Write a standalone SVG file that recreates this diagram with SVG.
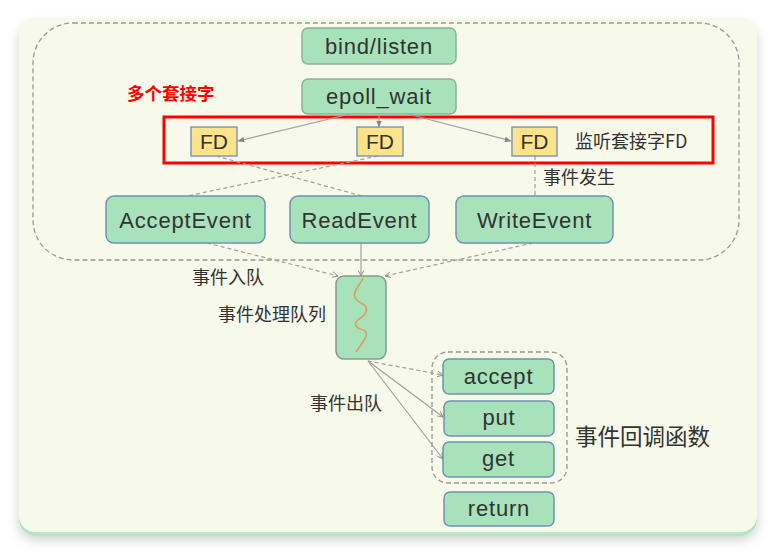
<svg xmlns="http://www.w3.org/2000/svg" width="775" height="555" viewBox="0 0 775 555">
<defs>
<filter id="sh" x="-10%" y="-10%" width="120%" height="125%">
<feDropShadow dx="0" dy="4" stdDeviation="6" flood-color="#000" flood-opacity="0.18"/>
</filter>
<marker id="ah" viewBox="0 0 10 10" refX="9" refY="5" markerWidth="7" markerHeight="7" orient="auto" markerUnits="userSpaceOnUse">
<path d="M1,1 L9,5 L1,9" fill="none" stroke="#888" stroke-width="1.3"/>
</marker>
<marker id="af" viewBox="0 0 10 10" refX="9" refY="5" markerWidth="7" markerHeight="7" orient="auto" markerUnits="userSpaceOnUse">
<path d="M0,1 L10,5 L0,9 Z" fill="#888"/>
</marker>
<style>
.node{fill:#a7e2ba;stroke:#6f93b3;stroke-width:1.5}
.gnode{fill:#a7e2ba;stroke:#8fb09a;stroke-width:1.5}
.fd{fill:#fde48a;stroke:#7f9ab3;stroke-width:1.5}
.t{font-family:"Liberation Sans",Arial,sans-serif;font-size:22px;fill:#333;text-anchor:middle;letter-spacing:0.8px}
.c{font-family:"Noto Sans CJK SC","Liberation Sans",sans-serif;font-size:18px;fill:#333}
.ln{fill:none;stroke:#a0a0a0;stroke-width:1.2}
.dl{fill:none;stroke:#a0a0a0;stroke-width:1.2;stroke-dasharray:4,3}
</style>
</defs>
<g id="card">
<rect x="19" y="21" width="738" height="515" rx="16" fill="#b6e6c3" filter="url(#sh)"/>
<rect x="19" y="18" width="738" height="514" rx="16" fill="#f7f9ea"/>
<rect x="33" y="23" width="706" height="237" rx="40" fill="none" stroke="#999" stroke-width="1.3" stroke-dasharray="5,3"/>
<rect x="432" y="352" width="135" height="131" rx="16" fill="none" stroke="#999" stroke-width="1.3" stroke-dasharray="5,3"/>
<rect x="164" y="117" width="549" height="46" fill="none" stroke="#f00" stroke-width="3"/>
</g>
<g id="connectors">
<line class="ln" x1="350" y1="114" x2="238" y2="141" marker-end="url(#af)"/>
<line class="ln" x1="379" y1="114" x2="379" y2="127" marker-end="url(#af)"/>
<line class="ln" x1="408" y1="114" x2="511" y2="141" marker-end="url(#af)"/>
<line class="dl" x1="216" y1="156" x2="362" y2="196"/>
<line class="dl" x1="378" y1="156" x2="187" y2="196"/>
<line class="dl" x1="535" y1="156" x2="535" y2="196"/>
<line class="dl" x1="207" y1="243" x2="338" y2="276" marker-end="url(#ah)"/>
<line class="ln" x1="361" y1="243" x2="361" y2="276" marker-end="url(#ah)"/>
<line class="dl" x1="533" y1="243" x2="385" y2="276" marker-end="url(#ah)"/>
<line class="dl" x1="368" y1="361" x2="443" y2="375" marker-end="url(#ah)"/>
<line class="ln" x1="368" y1="361" x2="443" y2="417" marker-end="url(#ah)"/>
<line class="ln" x1="368" y1="361" x2="443" y2="459" marker-end="url(#ah)"/>
</g>
<g id="bind-listen"><rect class="gnode" x="302" y="28" width="154" height="36" rx="6"/><text class="t" x="379" y="54">bind/listen</text></g>
<g id="epoll-wait"><rect class="gnode" x="302" y="79" width="154" height="35" rx="6"/><text class="t" x="379" y="104">epoll_wait</text></g>
<g id="fd1"><rect class="fd" x="191" y="127" width="46" height="29"/><text class="t" x="214" y="149" style="font-size:21px;letter-spacing:0">FD</text></g>
<g id="fd2"><rect class="fd" x="357" y="127" width="46" height="29"/><text class="t" x="380" y="149" style="font-size:21px;letter-spacing:0">FD</text></g>
<g id="fd3"><rect class="fd" x="512" y="127" width="45" height="29"/><text class="t" x="534.5" y="149" style="font-size:21px;letter-spacing:0">FD</text></g>
<g id="accept-event"><rect class="node" x="106" y="196" width="159" height="47" rx="8"/><text class="t" x="185.5" y="227.5">AcceptEvent</text></g>
<g id="read-event"><rect class="node" x="290" y="196" width="139" height="47" rx="8"/><text class="t" x="359.5" y="227.5">ReadEvent</text></g>
<g id="write-event"><rect class="node" x="456" y="196" width="157" height="47" rx="8"/><text class="t" x="534.5" y="227.5">WriteEvent</text></g>
<g id="queue"><rect x="336" y="276" width="50" height="83" rx="8" fill="#a7e2ba" stroke="#8a9a8e" stroke-width="1.5"/>
<path d="M363,278 C360,285 352,292 355,298 C358,304 369,303 366,312 C364,318 353,320 356,326 C359,331 368,328 366,336 C364,342 359,347 356,352" fill="none" stroke="#e09a55" stroke-width="1.5"/></g>
<g id="accept"><rect class="node" x="443" y="359" width="111" height="35" rx="6"/><text class="t" x="498.5" y="384">accept</text></g>
<g id="put"><rect class="node" x="444" y="401" width="110" height="35" rx="6"/><text class="t" x="499" y="425">put</text></g>
<g id="get"><rect class="node" x="443" y="442" width="111" height="35" rx="6"/><text class="t" x="498.5" y="466">get</text></g>
<g id="return"><rect class="node" x="444" y="492" width="110" height="34" rx="6"/><text class="t" x="499" y="516">return</text></g>
<g id="labels">
<text class="c" x="127" y="100" style="fill:#f00;font-weight:bold;font-size:17.5px">多个套接字</text>
<text class="c" x="575" y="148">监听套接字FD</text>
<text class="c" x="543" y="183.5">事件发生</text>
<text class="c" x="192" y="284">事件入队</text>
<text class="c" x="218" y="321">事件处理队列</text>
<text class="c" x="310" y="410">事件出队</text>
<text class="c" x="575" y="445" style="font-size:22.5px">事件回调函数</text>
</g>
</svg>
